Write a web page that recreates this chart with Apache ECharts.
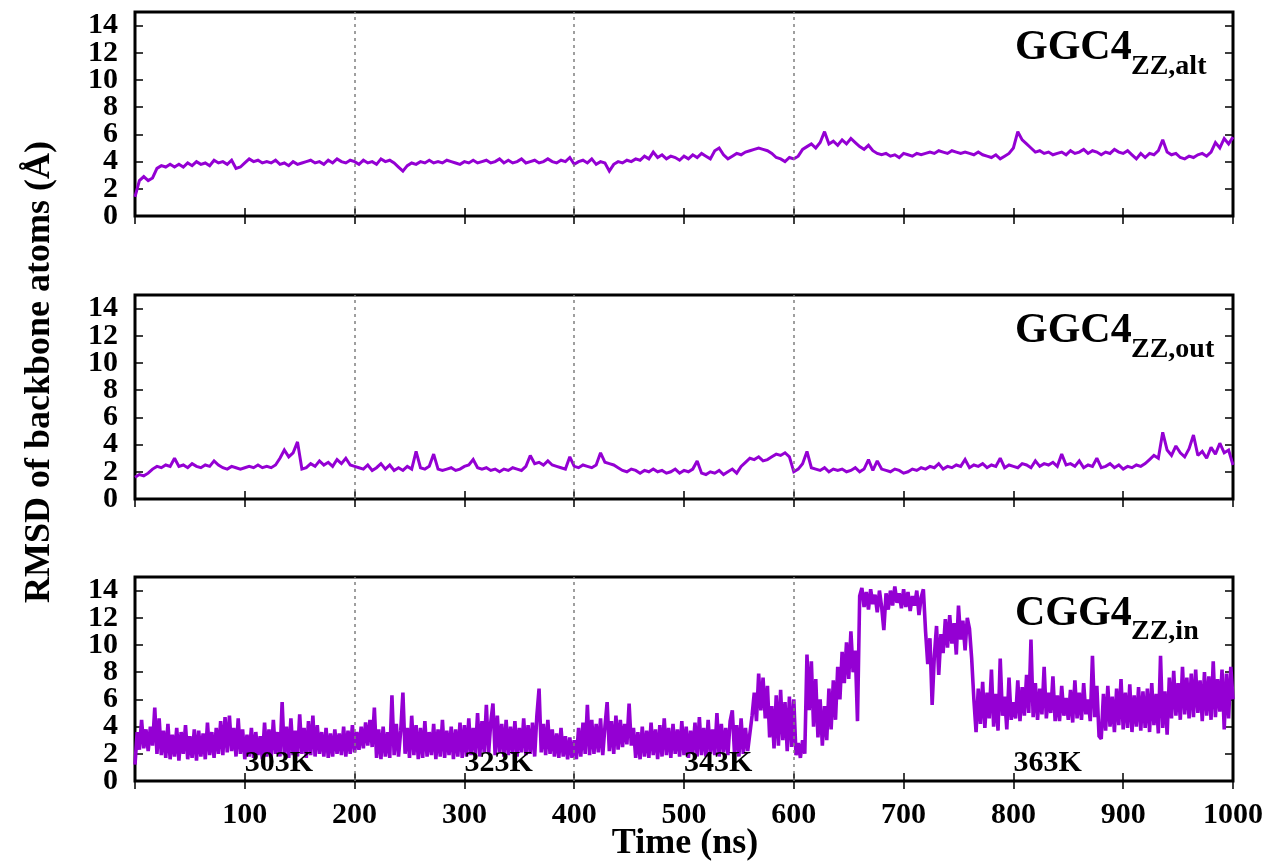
<!DOCTYPE html>
<html>
<head>
<meta charset="utf-8">
<title>RMSD of backbone atoms</title>
<script src="https://cdn.jsdelivr.net/npm/echarts@6/dist/echarts.min.js"></script>
<style>
  html, body { margin: 0; padding: 0; background: #fff; }
  #chart { width: 1270px; height: 862px; }
</style>
</head>
<body>
<div id="chart"></div>
<script>
// RMSD traces (Å), sampled every 4 ns (top two) and every 2 ns (bottom)
const stepAlt = 4;
const rmsdAlt = [
  1.4, 2.6, 2.9, 2.6, 2.8, 3.5, 3.7, 3.6, 3.8, 3.6,
  3.8, 3.6, 3.9, 3.7, 4.0, 3.8, 3.9, 3.7, 4.1, 3.9,
  4.0, 3.8, 4.1, 3.5, 3.6, 3.9, 4.2, 4.0, 4.1, 3.9,
  4.0, 3.9, 4.1, 3.8, 3.9, 3.7, 4.0, 3.8, 3.9, 4.0,
  4.1, 3.9, 4.0, 3.8, 4.1, 3.9, 4.2, 4.0, 3.9, 4.1,
  4.0, 3.8, 4.1, 3.9, 4.0, 3.8, 4.2, 4.0, 4.1, 3.9,
  3.6, 3.3, 3.7, 3.9, 3.8, 4.0, 3.9, 4.1, 3.9, 4.0,
  3.9, 4.1, 4.0, 3.9, 3.8, 4.0, 3.9, 4.1, 3.9, 4.0,
  4.1, 3.9, 4.0, 4.2, 3.9, 4.1, 3.9, 4.0, 4.2, 3.9,
  4.0, 4.1, 3.9, 4.0, 4.2, 4.0, 3.9, 4.1, 4.0, 4.3,
  3.8, 4.0, 4.1, 3.9, 4.2, 3.8, 4.0, 3.9, 3.3, 3.8,
  4.0, 3.9, 4.1, 4.0, 4.2, 4.1, 4.4, 4.2, 4.7, 4.3,
  4.5, 4.2, 4.4, 4.3, 4.1, 4.4, 4.2, 4.5, 4.3, 4.6,
  4.4, 4.2, 4.8, 5.0, 4.5, 4.2, 4.4, 4.6, 4.5, 4.7,
  4.8, 4.9, 5.0, 4.9, 4.8, 4.6, 4.3, 4.2, 4.0, 4.3,
  4.2, 4.4, 4.9, 5.1, 5.3, 5.0, 5.4, 6.2, 5.3, 5.5,
  5.2, 5.6, 5.3, 5.7, 5.4, 5.1, 4.9, 5.2, 4.8, 4.6,
  4.5, 4.6, 4.4, 4.5, 4.3, 4.6, 4.5, 4.4, 4.6, 4.5,
  4.6, 4.7, 4.6, 4.8, 4.7, 4.6, 4.8, 4.7, 4.6, 4.7,
  4.6, 4.5, 4.7, 4.5, 4.4, 4.3, 4.5, 4.2, 4.4, 4.6,
  5.0, 6.2, 5.6, 5.3, 5.0, 4.7, 4.8, 4.6, 4.7, 4.5,
  4.6, 4.7, 4.5, 4.8, 4.6, 4.7, 4.9, 4.6, 4.8, 4.7,
  4.5, 4.7, 4.6, 4.9, 4.7, 4.6, 4.8, 4.5, 4.2, 4.6,
  4.3, 4.6, 4.5, 4.8, 5.6, 4.7, 4.5, 4.6, 4.3, 4.2,
  4.4, 4.3, 4.5, 4.6, 4.4, 4.7, 5.4, 5.0, 5.7, 5.3,
  5.8
];

const stepOut = 4;
const rmsdOut = [
  1.6, 1.8, 1.7, 1.9, 2.2, 2.4, 2.3, 2.5, 2.4, 3.0,
  2.4, 2.5, 2.3, 2.6, 2.4, 2.3, 2.5, 2.4, 2.8, 2.5,
  2.3, 2.2, 2.4, 2.3, 2.2, 2.3, 2.4, 2.3, 2.5, 2.3,
  2.4, 2.3, 2.5, 3.0, 3.6, 3.1, 3.4, 4.2, 2.2, 2.3,
  2.6, 2.4, 2.8, 2.5, 2.7, 2.4, 2.9, 2.6, 3.0, 2.5,
  2.4, 2.3, 2.2, 2.5, 2.1, 2.3, 2.6, 2.2, 2.5, 2.1,
  2.3, 2.1, 2.4, 2.2, 3.5, 2.3, 2.2, 2.4, 3.3, 2.2,
  2.1, 2.2, 2.3, 2.1, 2.2, 2.4, 2.5, 2.9, 2.3, 2.2,
  2.3, 2.1, 2.2, 2.0, 2.2, 2.1, 2.3, 2.2, 2.1, 2.4,
  3.2, 2.6, 2.7, 2.5, 2.8, 2.5, 2.4, 2.3, 2.2, 3.1,
  2.4, 2.3, 2.5, 2.4, 2.3, 2.5, 3.4, 2.7, 2.6, 2.5,
  2.3, 2.1, 2.0, 2.2, 2.1, 1.9, 2.1, 2.0, 2.2, 2.0,
  2.1, 1.9, 2.0, 2.2, 1.9, 2.1, 2.0, 2.2, 2.8, 1.9,
  1.8, 2.0, 1.9, 2.1, 1.8, 2.0, 2.2, 1.9, 2.4, 2.7,
  3.0, 2.9, 3.1, 2.8, 2.9, 3.1, 3.3, 3.2, 3.4, 3.1,
  2.0, 2.2, 2.6, 3.5, 2.3, 2.2, 2.1, 2.3, 2.0, 2.2,
  2.1, 2.2, 2.0, 2.1, 2.3, 2.0, 2.2, 2.9, 2.1, 2.8,
  2.2, 2.1, 2.0, 2.2, 2.1, 1.9, 2.0, 2.2, 2.1, 2.3,
  2.2, 2.4, 2.3, 2.6, 2.2, 2.4, 2.3, 2.5, 2.4, 2.9,
  2.3, 2.5, 2.4, 2.6, 2.3, 2.5, 2.4, 3.0, 2.3, 2.5,
  2.4, 2.3, 2.6, 2.5, 2.3, 2.8, 2.4, 2.6, 2.5, 2.7,
  2.4, 3.3, 2.5, 2.6, 2.4, 2.8, 2.3, 2.5, 2.4, 3.0,
  2.3, 2.4, 2.6, 2.3, 2.5, 2.2, 2.4, 2.3, 2.5, 2.4,
  2.6, 2.9, 3.2, 3.0, 4.9, 3.6, 3.2, 3.9, 3.4, 3.1,
  3.7, 4.7, 3.2, 3.5, 3.0, 3.8, 3.3, 4.1, 3.4, 3.6,
  2.5
];

const stepIn = 2;
const rmsdIn = [
  1.2, 3.6, 2.3, 4.5, 2.4, 3.8, 2.2, 4.0, 2.6, 5.4,
  2.0, 4.6, 1.9, 3.7, 1.7, 4.2, 1.6, 3.4, 1.8, 3.9,
  1.5, 3.6, 2.0, 4.1, 1.6, 3.3, 1.7, 3.8, 1.5, 3.7,
  1.8, 3.5, 1.6, 4.3, 1.9, 3.6, 1.7, 3.9, 2.0, 4.4,
  1.9, 4.7, 2.1, 4.8, 2.2, 3.9, 1.8, 4.6, 2.0, 3.8,
  1.6, 3.4, 1.8, 3.9, 1.7, 3.6, 1.9, 3.3, 1.6, 4.3,
  1.8, 3.8, 1.7, 4.5, 2.0, 3.6, 1.8, 5.8, 1.9, 4.0,
  1.7, 4.6, 1.9, 3.7, 1.8, 4.9, 2.0, 3.9, 1.7, 4.4,
  1.9, 4.8, 1.8, 4.1, 2.0, 3.6, 1.8, 3.9, 1.7, 3.5,
  1.8, 3.8, 2.0, 3.5, 1.9, 4.0, 1.8, 3.7, 2.0, 4.1,
  2.1, 3.6, 2.3, 4.0, 2.4, 4.3, 2.6, 4.5, 2.5, 5.4,
  1.7, 3.8, 1.6, 4.0, 1.8, 3.6, 1.7, 6.3, 1.9, 4.2,
  1.8, 3.7, 6.5, 2.0, 3.9, 1.7, 4.8, 1.9, 4.1, 1.6,
  3.9, 1.7, 4.4, 1.8, 3.6, 1.9, 4.2, 1.6, 3.8, 1.8,
  4.5, 1.7, 3.7, 1.9, 4.0, 1.6, 3.8, 1.8, 4.3, 1.7,
  4.1, 1.8, 4.6, 1.9, 3.9, 2.0, 5.0, 1.8, 4.4, 2.1,
  5.6, 2.0, 4.3, 5.7, 1.9, 4.8, 2.1, 4.2, 1.8, 4.5,
  1.9, 4.0, 2.0, 4.4, 1.8, 3.9, 2.1, 4.6, 1.9, 4.1,
  2.0, 4.3, 1.8, 4.8, 6.8, 2.1, 4.2, 1.9, 4.5, 2.0,
  3.8, 1.8, 3.5, 1.7, 3.9, 1.8, 3.3, 1.6, 3.2, 1.7,
  3.0, 1.6, 3.9, 1.8, 4.3, 2.0, 5.6, 1.9, 4.5, 2.0,
  4.2, 2.1, 4.6, 1.9, 4.0, 5.8, 2.2, 4.4, 2.0, 4.8,
  2.3, 4.5, 2.5, 4.2, 2.7, 5.7, 2.6, 3.9, 1.7, 3.6,
  1.6, 4.0, 1.8, 3.7, 1.7, 4.3, 1.9, 3.8, 1.6, 4.1,
  1.8, 4.6, 1.9, 3.9, 1.7, 4.2, 2.0, 3.8, 1.8, 4.4,
  1.9, 4.0, 1.7, 3.7, 2.0, 4.3, 1.8, 4.7, 1.9, 3.9,
  1.8, 4.5, 2.0, 3.8, 1.9, 5.0, 1.8, 4.2, 2.1, 3.9,
  1.9, 4.4, 5.2, 2.0, 4.1, 1.8, 4.6, 2.0, 3.9, 2.2,
  3.5, 4.8, 6.5, 4.4, 7.9, 5.2, 7.6, 4.6, 7.0, 3.2,
  5.5, 2.4, 6.3, 2.6, 6.7, 3.0, 5.8, 2.2, 6.2, 2.5,
  6.0, 1.9, 2.8, 1.7, 3.0, 2.0, 9.3, 5.2, 8.8, 4.0,
  7.5, 3.2, 6.0, 2.6, 5.5, 3.0, 6.8, 3.8, 7.4, 4.5,
  8.4, 6.0, 9.5, 7.2, 10.2, 7.5, 11.0, 8.0, 9.6, 4.4,
  13.6, 14.2, 12.8, 13.9, 12.6, 14.1, 13.0, 13.7, 12.4, 14.0,
  12.8, 11.1, 13.8, 12.6, 14.0, 12.9, 14.3, 13.1, 13.8, 12.7,
  14.1, 12.8, 13.9, 12.5, 13.6, 12.9, 14.0, 12.2, 13.5, 14.1,
  11.0, 8.6, 10.5, 5.6, 9.2, 11.4, 7.8, 10.8, 9.4, 11.9,
  9.8, 12.2, 10.1, 11.6, 9.3, 12.9, 10.4, 11.8, 9.6, 12.0,
  11.2, 9.0, 6.0, 3.6, 6.8, 4.2, 7.3, 3.9, 6.5, 4.6,
  8.2, 4.0, 6.4, 3.7, 9.0, 4.8, 6.2, 3.8, 7.6, 4.5,
  5.8, 4.6, 7.4, 4.4, 6.9, 4.8, 7.8, 5.0, 10.4, 4.7,
  7.2, 4.5, 6.8, 4.9, 8.4, 4.6, 6.5, 5.0, 7.7, 4.4,
  6.3, 4.4, 7.0, 4.8, 6.1, 4.5, 6.7, 4.3, 7.4, 4.6,
  6.5, 4.5, 7.2, 4.9, 6.0, 4.4, 9.2, 4.7, 7.0, 3.3,
  3.1, 6.4, 3.7, 7.0, 4.0, 6.2, 3.6, 6.8, 4.1, 7.5,
  3.8, 6.5, 3.9, 7.1, 3.6, 6.3, 4.0, 6.9, 3.7, 6.6,
  3.9, 6.8, 3.6, 7.2, 4.1, 6.4, 3.5, 9.2, 3.9, 6.6,
  3.4, 7.6, 4.6, 8.1, 4.8, 7.2, 4.5, 8.4, 4.9, 7.6,
  4.6, 7.9, 4.7, 8.2, 5.0, 7.4, 4.4, 8.0, 4.8, 7.7,
  4.5, 8.8, 4.7, 7.5, 5.1, 8.2, 3.8, 7.9, 4.6, 8.4,
  6.0
];

// Panel names (main part + subscript)
const panelMain = ['GGC4', 'GGC4', 'CGG4'];
const panelSub = ['ZZ,alt', 'ZZ,out', 'ZZ,in'];

// Temperature stages marked in the bottom panel
const tempNames = ['303K', '323K', '343K', '363K'];
const tempTimes = [100, 300, 500, 800];
const tempLevel = 1.3;

// Stage boundaries (ns)
const stageBounds = [200, 400, 600];

const xTicks = { min: 0, max: 1000, interval: 100 };
const yTicks = { min: 0, max: 15, interval: 2 };

const FONT = "'Liberation Serif', 'Times New Roman', serif";
const PURPLE = '#9400d3';

function toPairs(values, step) {
  return values.map((v, i) => [i * step, v]);
}

const traces = [toPairs(rmsdAlt, stepAlt), toPairs(rmsdOut, stepOut), toPairs(rmsdIn, stepIn)];
const traceWidth = [3, 3, 3.6];

const panelTop = [12, 295, 577];
const panelHeight = 204;

const grids = [], xAxes = [], yAxes = [], series = [];
const labelFont = { color: '#000', fontFamily: FONT, fontWeight: 'bold', fontSize: 30 };

panelTop.forEach((top, i) => {
  grids.push({
    left: 135, right: 37, top: top, height: panelHeight,
    show: true, borderColor: '#000', borderWidth: 3, backgroundColor: 'transparent'
  });
  const isLast = i === panelTop.length - 1;
  const tick = { show: true, inside: true, length: 8, lineStyle: { color: '#000', width: 1.5 } };
  const yBase = {
    type: 'value', gridIndex: i,
    min: yTicks.min, max: yTicks.max, interval: yTicks.interval,
    axisLine: { show: false }, splitLine: { show: false }
  };
  const xBase = {
    type: 'value', gridIndex: i,
    min: xTicks.min, max: xTicks.max, interval: xTicks.interval,
    axisLine: { show: false }, splitLine: { show: false }
  };

  xAxes.push(Object.assign({}, xBase, {
    position: 'bottom', axisTick: tick,
    axisLabel: Object.assign({
      show: isLast, showMinLabel: false, showMaxLabel: true, margin: 19,
      formatter: v => String(v)
    }, labelFont)
  }));
  xAxes.push(Object.assign({}, xBase, {
    position: 'top', axisTick: tick, axisLabel: { show: false }
  }));

  // left axis: ticks and the labels 2..14
  yAxes.push(Object.assign({}, yBase, {
    position: 'left', axisTick: tick,
    axisLabel: Object.assign({
      show: true, showMaxLabel: false, margin: 17,
      formatter: v => (v === 0 || v > 14) ? '' : String(v)
    }, labelFont)
  }));
  // left axis: the zero label
  yAxes.push(Object.assign({}, yBase, {
    position: 'left', axisTick: { show: false },
    axisLabel: Object.assign({
      show: true, showMinLabel: true, margin: 17,
      formatter: v => v === 0 ? '0' : ''
    }, labelFont)
  }));
  // right axis: mirrored ticks
  yAxes.push(Object.assign({}, yBase, {
    position: 'right', axisTick: tick, axisLabel: { show: false }
  }));

  // dotted stage boundaries
  series.push({
    type: 'line', xAxisIndex: 2 * i, yAxisIndex: 3 * i, data: [], z: 1,
    markLine: {
      silent: true, symbol: ['none', 'none'], label: { show: false },
      lineStyle: { color: '#808080', type: [3, 4], width: 1.5 },
      data: stageBounds.map(x => ({ xAxis: x }))
    }
  });

  series.push({
    type: 'line', xAxisIndex: 2 * i, yAxisIndex: 3 * i,
    data: traces[i], showSymbol: false, symbol: 'none', z: 2,
    lineStyle: { color: PURPLE, width: traceWidth[i], join: 'miter', miterLimit: 2 },
    itemStyle: { color: PURPLE },
    clip: true
  });
});

// temperature labels in the bottom panel
series.push({
  type: 'scatter', xAxisIndex: 4, yAxisIndex: 6, z: 5,
  symbolSize: 0, itemStyle: { color: '#000', opacity: 1 },
  data: tempTimes.map((t, k) => ({ value: [t, tempLevel], name: tempNames[k] })),
  label: Object.assign({
    show: true, position: 'right', distance: 0, opacity: 1,
    formatter: p => p.name
  }, labelFont),
  labelLayout: { hideOverlap: false }
});

// panel names and axis titles
const mainCenterY = [49, 332, 615];
const subCenterY = [68, 351, 633];
const graphics = [];
panelMain.forEach((m, i) => {
  graphics.push({
    type: 'text', left: 1015, top: mainCenterY[i] - 22, z: 10,
    style: { text: m, fill: '#000', font: 'bold 42px ' + FONT }
  });
  graphics.push({
    type: 'text', left: 1131, top: subCenterY[i] - 15, z: 10,
    style: { text: panelSub[i], fill: '#000', font: 'bold 28px ' + FONT }
  });
});
graphics.push({
  type: 'text', x: 40, y: 372, rotation: Math.PI / 2, z: 10,
  style: {
    text: 'RMSD of backbone atoms (Å)', fill: '#000', font: 'bold 36px ' + FONT,
    align: 'center', verticalAlign: 'middle'
  }
});
graphics.push({
  type: 'text', x: 685, y: 844, z: 10,
  style: {
    text: 'Time (ns)', fill: '#000', font: 'bold 36px ' + FONT,
    align: 'center', verticalAlign: 'middle'
  }
});

const chart = echarts.init(document.getElementById('chart'), null, { renderer: 'canvas' });
chart.setOption({
  animation: false,
  backgroundColor: '#fff',
  grid: grids,
  xAxis: xAxes,
  yAxis: yAxes,
  series: series,
  graphic: graphics
});
</script>
</body>
</html>
